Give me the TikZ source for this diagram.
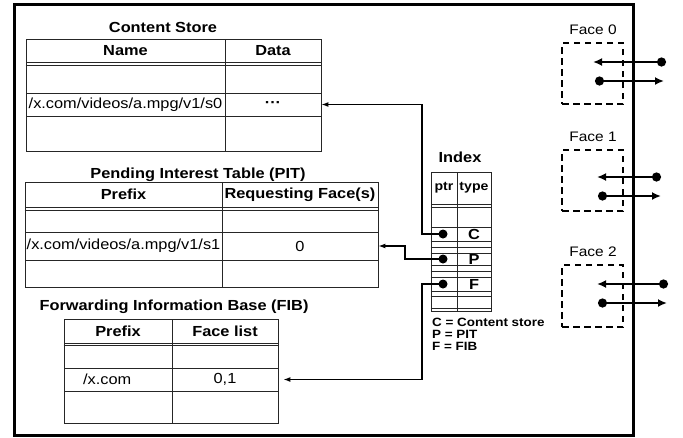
\documentclass[tikz,border=0pt]{standalone}
\usepackage{fontspec}
\setmainfont{Liberation Sans}[FakeStretch=1.12]
\usetikzlibrary{arrows.meta}
\newcommand\tcell[7][tcell]{\node[#1, minimum width={(#5)-(#3)}, minimum height={(#6)-(#4)}] (#2) at ({((#3)+(#5))/2},{((#4)+(#6))/2}) {#7};}
\begin{document}
\begin{tikzpicture}[x=1pt,y=-1pt,
  tcell/.style={draw=black!85, line width=0.8pt, inner sep=0pt, font=\fontsize{14.6}{16}\selectfont},
  hcell/.style={tcell, font=\bfseries\fontsize{14.6}{16}\selectfont},
  icell/.style={tcell, font=\bfseries\fontsize{12.6}{14}\selectfont},
  tcellb/.style={tcell, font=\bfseries\fontsize{14.6}{16}\selectfont},
  ttl/.style={font=\bfseries\fontsize{14.6}{16}\selectfont, inner sep=0pt},
  legend/.style={font=\bfseries\fontsize{12}{13}\selectfont, inner sep=0pt, anchor=west},
  facelbl/.style={font=\fontsize{13.8}{15}\selectfont, inner sep=0pt},
  conn/.style={line width=1.3pt, -{Latex[length=7pt,width=5pt]}},
  ptrdot/.style={circle, fill, inner sep=0pt, minimum size=9pt},
  facebox/.style={draw, dash pattern=on 6.5pt off 4.5pt, line width=1.4pt, inner sep=0pt},
  facearrow/.style={line width=2.6pt, {Circle[length=9pt,width=9pt]}-{Latex[length=9pt,width=8pt]}}
]
\useasboundingbox (0,0) rectangle (683,437);
% outer frame
\node[draw, line width=3pt, inner sep=0pt, minimum width=619pt, minimum height=431pt] (router) at (323.5,219.5) {};

% Content Store
\node[ttl] (cstitle) at (163,27) {Content Store};
\tcell[hcell]{csh1}{26}{39}{225}{62}{Name}
\tcell[hcell]{csh2}{225}{39}{321}{62}{Data}
\tcell{cs11}{26}{62}{225}{93}{}
\tcell{cs12}{225}{62}{321}{93}{}
\tcell{cs21}{26}{93}{225}{116}{/x.com/videos/a.mpg/v1/s0}
\tcell[tcellb]{cs22}{225}{93}{321}{116}{···}
\tcell{cs31}{26}{116}{225}{151}{}
\tcell{cs32}{225}{116}{321}{151}{}
\draw[draw=black!85, line width=0.8pt] (csh1.south west |- 0,65) -- (csh2.south east |- 0,65);

% PIT
\node[ttl] (pittitle) at (198,175) {Pending Interest Table (PIT)};
\tcell[hcell]{pith1}{25}{182}{222}{207}{Prefix}
\tcell[hcell]{pith2}{222}{182}{378}{207}{Requesting Face(s)}
\tcell{pit11}{25}{207}{222}{232}{}
\tcell{pit12}{222}{207}{378}{232}{}
\tcell{pit21}{25}{232}{222}{260}{/x.com/videos/a.mpg/v1/s1}
\tcell{pit22}{222}{232}{378}{260}{0}
\tcell{pit31}{25}{260}{222}{287}{}
\tcell{pit32}{222}{260}{378}{287}{}
\draw[draw=black!85, line width=0.8pt] (pith1.south west |- 0,210) -- (pith2.south east |- 0,210);

% FIB
\node[ttl] (fibtitle) at (174,307) {Forwarding Information Base (FIB)};
\tcell[hcell]{fibh1}{64}{319}{172}{343}{Prefix}
\tcell[hcell]{fibh2}{172}{319}{278}{343}{Face list}
\tcell{fib11}{64}{343}{172}{368}{}
\tcell{fib12}{172}{343}{278}{368}{}
\tcell{fib21}{64}{368}{172}{391}{}
\tcell{fib22}{172}{368}{278}{391}{0,1}
\tcell{fib31}{64}{391}{172}{423}{}
\tcell{fib32}{172}{391}{278}{423}{}
\node[font=\fontsize{14.6}{16}\selectfont, inner sep=0pt, anchor=west] (fibtxt) at (83,379.5) {/x.com};
\draw[draw=black!85, line width=0.8pt] (fibh1.south west |- 0,345.5) -- (fibh2.south east |- 0,345.5);

% Index
\node[ttl] (idxtitle) at (460,157) {Index};
\tcell[icell]{idxh1}{431}{172}{457}{204}{ptr}
\tcell[icell]{idxh2}{457}{172}{491}{204}{type}
\tcell{idxbody}{431}{204}{491}{311}{}
\draw[draw=black!85, line width=0.8pt] (idxh1.south east) -- (idxbody.south -| idxh1.south east);
\foreach \yy in {207,227,241,247,253,265,271,277,291,296,308}
  \draw[draw=black!85, line width=0.8pt] (idxbody.west |- 0,\yy) -- (idxbody.east |- 0,\yy);
\tcell[tcellb]{typeC}{457}{227}{491}{241}{C}
\tcell[tcellb]{typeP}{457}{253}{491}{265}{P}
\tcell[tcellb]{typeF}{457}{277}{491}{291}{F}
\node[ptrdot] (dotC) at (443,234) {};
\node[ptrdot] (dotP) at (443,259) {};
\node[ptrdot] (dotF) at (443,284) {};
\node[legend] (legC) at (432,322) {C = Content store};
\node[legend] (legP) at (432,334) {P = PIT};
\node[legend] (legF) at (432,346) {F = FIB};

% connectors
\draw[conn] (dotC.center) -- ++(-21,0) |- (cs22.east);
\draw[conn] (dotP.center) -- ++(-38,0) |- (pit22.east);
\draw[conn, shorten >=5pt] (dotF.center) -- ++(-21,0) |- (fib22.east);

% Faces
\node[facelbl] (f0lbl) at (593,30) {Face 0};
\node[facebox, minimum width=61pt, minimum height=61pt] (face0) at (592.5,73.5) {};
\coordinate (f0a) at (666,62); \coordinate (f0b) at (593,62);
\coordinate (f0c) at (595,81); \coordinate (f0d) at (664,81);
\draw[facearrow] (f0a) -- (f0b);
\draw[facearrow] (f0c) -- (f0d);

\node[facelbl] (f1lbl) at (593,137) {Face 1};
\node[facebox, minimum width=61pt, minimum height=61pt] (face1) at (592.5,180.5) {};
\coordinate (f1a) at (661,177); \coordinate (f1b) at (597,177);
\coordinate (f1c) at (598,196); \coordinate (f1d) at (661,196);
\draw[facearrow] (f1a) -- (f1b);
\draw[facearrow] (f1c) -- (f1d);

\node[facelbl] (f2lbl) at (593,252) {Face 2};
\node[facebox, minimum width=61pt, minimum height=62pt] (face2) at (592.5,296) {};
\coordinate (f2a) at (668,284); \coordinate (f2b) at (597,284);
\coordinate (f2c) at (598,303); \coordinate (f2d) at (667,303);
\draw[facearrow] (f2a) -- (f2b);
\draw[facearrow] (f2c) -- (f2d);
\end{tikzpicture}
\end{document}
